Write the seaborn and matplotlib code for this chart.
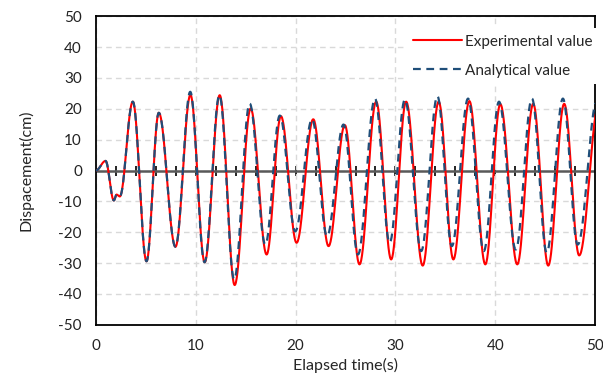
import numpy as np
import pandas as pd
import seaborn as sns
import matplotlib
matplotlib.use('Agg')
import matplotlib.pyplot as plt

# extrema (time in s, displacement in cm)
t_exp = [0, 0.97, 1.8, 2.07, 2.4, 3.7, 5.07, 6.3, 7.97, 9.47, 10.9, 12.4, 13.9,
         15.5, 17.1, 18.53, 20.1, 21.77, 23.3, 24.93, 26.4, 28.07, 29.57, 31.07,
         32.73, 34.33, 35.8, 37.4, 39.0, 40.5, 42.2, 43.8, 45.3, 46.9, 48.4, 50.4]
v_exp = [0, 3.1, -9.7, -7.8, -8.4, 22.3, -29.4, 18.7, -24.7, 24.5, -29.7, 24.4, -37.1,
         20.1, -27.2, 17.6, -23.4, 16.6, -24.5, 14.7, -30.4, 22.3, -28.8, 22.3,
         -30.8, 22.3, -28.8, 22.5, -30.4, 21.5, -30.4, 21.6, -30.8, 21.6, -27.5, 22.0]

t_ana = [0, 0.97, 1.8, 2.07, 2.4, 3.7, 5.07, 6.3, 7.97, 9.45, 10.88, 12.37, 13.85,
         15.4, 16.97, 18.42, 19.97, 21.65, 23.15, 24.8, 26.25, 27.95, 29.42, 30.95,
         32.58, 34.2, 35.65, 37.27, 38.85, 40.37, 42.05, 43.67, 45.15, 46.77, 48.25, 50.2]
v_ana = [0, 3.1, -9.7, -7.8, -8.4, 22.3, -29.4, 18.7, -24.7, 25.5, -29.7, 24.4, -35.3,
         21.7, -24.0, 17.8, -19.7, 16.6, -21.3, 14.9, -27.2, 23.3, -23.4, 23.0,
         -26.1, 24.1, -24.5, 23.3, -26.1, 22.3, -25.6, 23.3, -26.6, 23.3, -24.0, 23.0]


def smooth_line(t, v, n=40):
    # Excel style smoothed line between the read extrema (half-cosine segments)
    xs, ys = [], []
    for i in range(len(t) - 1):
        s = np.linspace(0, 1, n, endpoint=False)
        xs.append(t[i] + (t[i + 1] - t[i]) * s)
        ys.append(v[i] + (v[i + 1] - v[i]) * (1 - np.cos(np.pi * s)) / 2)
    xs.append([t[-1]])
    ys.append([v[-1]])
    return np.concatenate(xs), np.concatenate(ys)


x1, y1 = smooth_line(t_exp, v_exp)
x2, y2 = smooth_line(t_ana, v_ana)
exp_df = pd.DataFrame({'time': x1, 'disp': y1})
ana_df = pd.DataFrame({'time': x2, 'disp': y2})

sns.set_style('white')
plt.rcParams['font.family'] = ['Lato', 'DejaVu Sans']
plt.rcParams['axes.unicode_minus'] = False

fig = plt.figure(figsize=(6.03, 3.76), dpi=100)
ax = fig.add_axes([0.159, 0.136, 0.828, 0.821])

sns.lineplot(data=exp_df, x='time', y='disp', ax=ax, color='#ff0000', lw=1.5,
             sort=False, estimator=None, label='Experimental value', zorder=3)
sns.lineplot(data=ana_df, x='time', y='disp', ax=ax, color='#1f4e79', lw=1.6,
             sort=False, estimator=None, label='Analytical value', zorder=4,
             dashes=False, linestyle=(0, (3.5, 2.5)))

ax.set_xlim(0, 50)
ax.set_ylim(-50, 50)
ax.set_xticks(range(0, 51, 10))
ax.set_yticks(range(-50, 51, 10))
ax.grid(True, color='#d9d9d9', ls=(0, (4, 3)), lw=1)
ax.tick_params(length=0, labelsize=11, colors='#222222')
ax.tick_params(axis='y', pad=10)
ax.tick_params(axis='x', pad=10)
for sp in ax.spines.values():
    sp.set_visible(True)
    sp.set_color('black')
    sp.set_linewidth(1.3)

# zero axis with cross tick marks every 2 s
ax.axhline(0, color='#595959', lw=1.8, zorder=2)
zero_ax = ax.secondary_xaxis(0.5)
zero_ax.set_xticks(range(2, 50, 2))
zero_ax.tick_params(direction='inout', length=7, width=1.2, color='black',
                    labelbottom=False, labeltop=False)
for sp in zero_ax.spines.values():
    sp.set_visible(False)

ax.set_xlabel('Elapsed time(s)', fontsize=11.5, labelpad=4)
ax.set_ylabel('Dispacement(cm)', fontsize=11.5, labelpad=18)

leg = ax.legend(loc='upper left', bbox_to_anchor=(0.607, 0.985), frameon=True,
                fontsize=11, handlelength=3.2, handletextpad=0.25,
                labelspacing=1.0, borderpad=0.4)
leg.get_frame().set_edgecolor('none')
leg.get_frame().set_facecolor('white')
leg.get_frame().set_alpha(1)

fig.savefig('out.png', dpi=100)
